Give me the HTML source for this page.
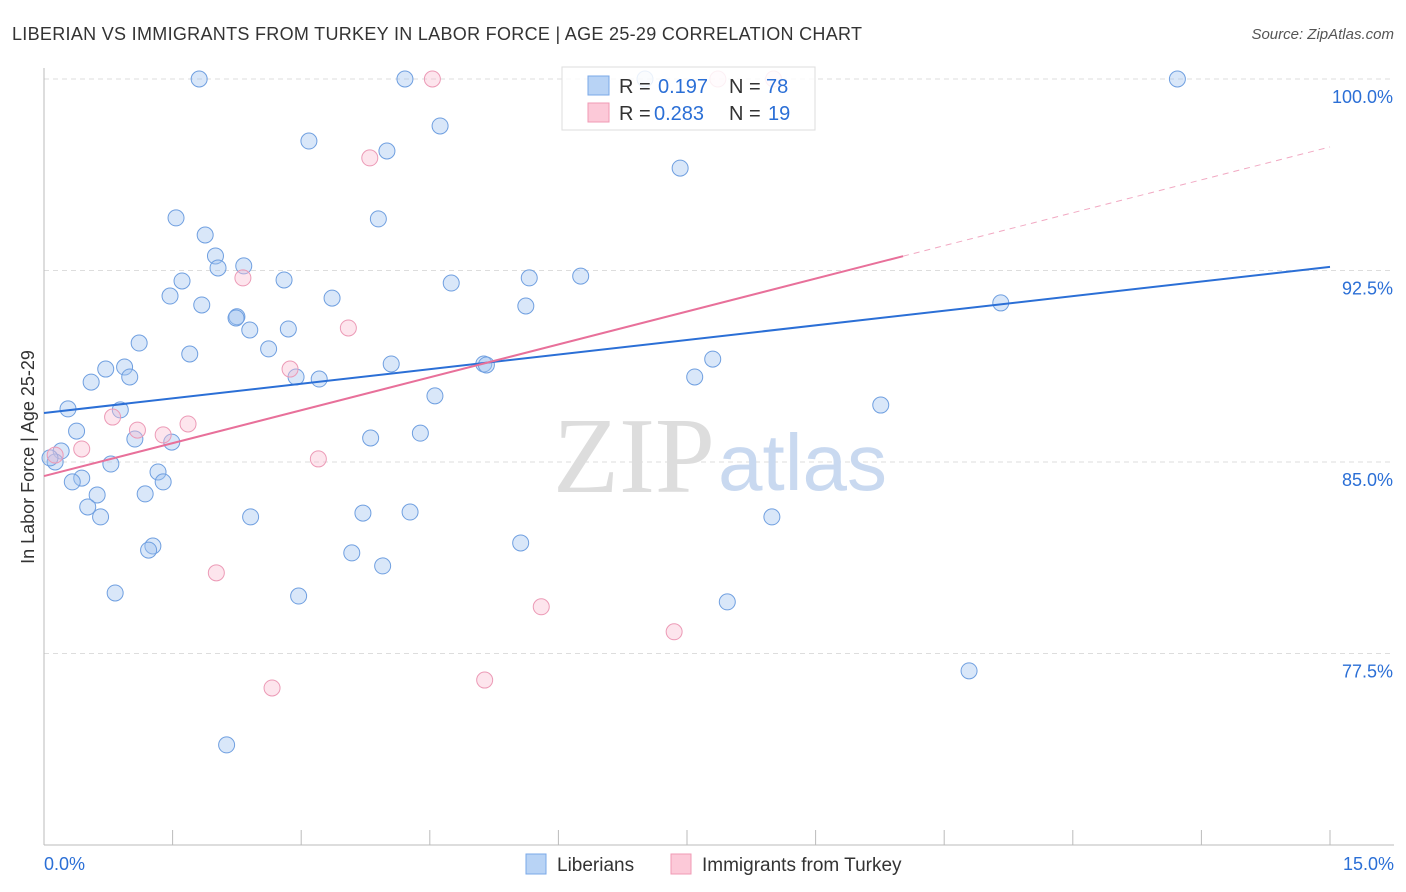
<!DOCTYPE html>
<html><head><meta charset="utf-8">
<style>
body{margin:0;background:#fff;font-family:"Liberation Sans",sans-serif;}
svg{display:block}
</style></head>
<body>
<svg id="chart" width="1406" height="892">
<text x="12" y="40" font-size="18" fill="#333" textLength="850">LIBERIAN VS IMMIGRANTS FROM TURKEY IN LABOR FORCE | AGE 25-29 CORRELATION CHART</text>
<text x="1394" y="39" font-size="15" fill="#555" text-anchor="end" font-style="italic">Source: ZipAtlas.com</text>
<text x="0" y="0" transform="translate(34,457) rotate(-90)" font-size="18" fill="#333" text-anchor="middle">In Labor Force | Age 25-29</text>
<g id="grid"></g>
<text x="715" y="492" font-size="108" fill="#ddd" text-anchor="end" font-family="Liberation Serif">ZIP</text>
<text x="718" y="490" font-size="80" fill="#c9d9f0">atlas</text>
<g id="pts"></g>
<g id="lines"></g>
<g>
<rect x="562" y="67" width="253" height="63" fill="#fff" fill-opacity="0.85" stroke="#ddd"/>
<rect x="588" y="76" width="21" height="19" fill="#b8d3f5" stroke="#7aa8e8"/>
<text x="619" y="93" font-size="20" fill="#333">R =</text><text x="658" y="93" font-size="20" fill="#2b6fd6">0.197</text>
<text x="729" y="93" font-size="20" fill="#333">N =</text><text x="766" y="93" font-size="20" fill="#2b6fd6">78</text>
<rect x="588" y="103" width="21" height="19" fill="#fcc9d8" stroke="#f09ab5"/>
<text x="619" y="120" font-size="20" fill="#333">R =</text><text x="654" y="120" font-size="20" fill="#2b6fd6">0.283</text>
<text x="729" y="120" font-size="20" fill="#333">N =</text><text x="768" y="120" font-size="20" fill="#2b6fd6">19</text>
</g>
<text x="44" y="870" font-size="18" fill="#2b6fd6">0.0%</text>
<text x="1394" y="870" font-size="18" fill="#2b6fd6" text-anchor="end">15.0%</text>
<g><rect x="526" y="854" width="20" height="20" fill="#b8d3f5" stroke="#7aa8e8"/><text x="557" y="871" font-size="19" fill="#333">Liberians</text></g>
<g><rect x="671" y="854" width="20" height="20" fill="#fcc9d8" stroke="#f09ab5"/><text x="702" y="871" font-size="19" fill="#333">Immigrants from Turkey</text></g>
</svg>
<script>
const blueX=[1.81,4.21,13.22,7.01,3.09,4.62,4.00,7.42,1.54,3.90,1.88,2.0,2.33,2.03,1.61,2.80,4.75,5.66,6.26,1.47,3.36,1.84,5.62,11.16,2.25,2.24,2.40,2.85,1.11,2.62,1.70,4.05,5.13,5.16,7.80,0.94,0.72,1.00,0.55,2.94,3.21,7.59,4.56,9.76,0.28,0.89,0.38,1.06,1.49,3.81,4.39,0.20,0.13,0.07,0.78,1.33,0.44,0.33,1.39,0.62,1.18,0.51,0.66,2.41,3.72,4.27,8.49,1.27,1.22,5.56,3.59,3.95,0.83,2.97,7.97,10.79,2.13];
const blueY=[100,100,100,100,97.57,98.16,97.18,96.51,94.56,94.52,93.89,93.07,92.68,92.60,92.09,92.13,92.01,92.21,92.28,91.50,91.42,91.15,91.11,91.23,90.69,90.64,90.17,90.21,89.66,89.43,89.23,88.84,88.84,88.80,89.03,88.72,88.64,88.33,88.13,88.33,88.25,88.33,87.59,87.23,87.08,87.04,86.21,85.90,85.78,85.94,86.13,85.43,85.0,85.16,84.92,84.61,84.37,84.22,84.22,83.71,83.75,83.24,82.85,82.85,83.0,83.04,82.85,81.71,81.55,81.83,81.44,80.93,79.87,79.75,79.52,76.82,73.92];
const pinkX=[4.53,7.86,8.51,3.80,2.32,3.55,2.87,0.80,1.68,1.09,1.39,0.44,0.13,3.20,2.01,5.80,7.35,2.66,5.14];
const pinkY=[100,100,100,96.91,92.21,90.25,88.64,86.76,86.49,86.25,86.06,85.51,85.27,85.12,80.66,79.33,78.35,76.15,76.46];
const yTicks=[100,92.5,85,77.5];
const blueTrend=[86.92,92.64];
const pinkTrend=[84.45,97.34];
const X=v=>44+v/15*1286;
const Y=v=>79+(100-v)/7.5*191.5;
const NS='http://www.w3.org/2000/svg';
function mk(p,t,a){const e=document.createElementNS(NS,t);for(const k in a)e.setAttribute(k,a[k]);p.appendChild(e);return e;}
const g=document.getElementById('grid');
yTicks.forEach(t=>{
 const l=mk(g,'line',{x1:44,x2:1394,y1:Y(t),y2:Y(t),stroke:'#ddd','stroke-dasharray':'5,4'});
 
 
 const tx=mk(g,'text',{x:1393,y:Y(t)+24,'font-size':18,fill:'#2b6fd6','text-anchor':'end'});
 tx.textContent=t.toFixed(1)+'%';
 
 
});
mk(g,'line',{x1:44,x2:44,y1:68,y2:845,stroke:'#bbb'});
mk(g,'line',{x1:44,x2:1394,y1:845,y2:845,stroke:'#bbb'});
for(let i=0;i<=10;i++){const t=mk(g,'line',{x1:X(i*1.5),x2:X(i*1.5),y1:830,y2:845,stroke:'#bbb'});
 
 }
const p=document.getElementById('pts');
blueX.forEach((v,i)=>{const c=mk(p,'circle',{cx:X(v),cy:Y(blueY[i]),r:8,fill:'rgba(160,196,240,0.4)',stroke:'#6f9fe0','stroke-width':1});
 
 });
pinkX.forEach((v,i)=>{const c=mk(p,'circle',{cx:X(v),cy:Y(pinkY[i]),r:8,fill:'rgba(250,190,210,0.4)',stroke:'#ec9ab6','stroke-width':1});
 
 });
const L=document.getElementById('lines');
const b=mk(L,'line',{x1:X(0),y1:Y(blueTrend[0]),x2:X(15),y2:Y(blueTrend[1]),stroke:'#2b6fd6','stroke-width':2});


const pk=(x)=>pinkTrend[0]+(pinkTrend[1]-pinkTrend[0])*x/15;
const p1=mk(L,'line',{x1:X(0),y1:Y(pk(0)),x2:X(10.02),y2:Y(pk(10.02)),stroke:'#e8709a','stroke-width':2});


const p2=mk(L,'line',{x1:X(10.02),y1:Y(pk(10.02)),x2:X(15),y2:Y(pk(15)),stroke:'#e8709a','stroke-width':1,'stroke-dasharray':'6,5',opacity:0.6});


</script>
</body></html>
